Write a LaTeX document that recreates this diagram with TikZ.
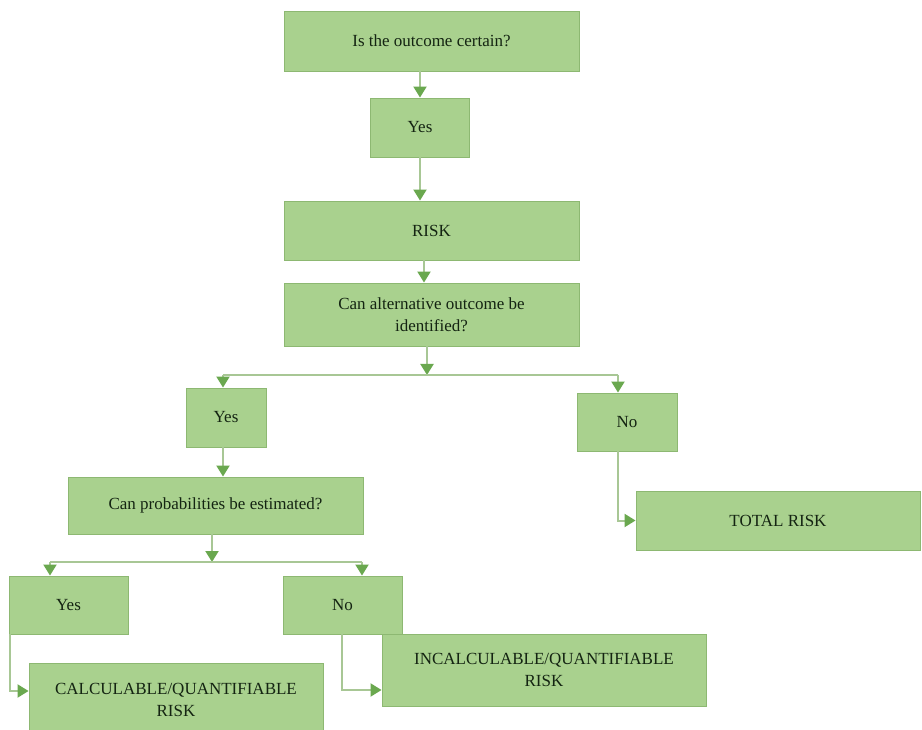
\documentclass[tikz,border=0pt]{standalone}
\usepackage{fontspec}
\setmainfont{Liberation Serif}
\usetikzlibrary{arrows.meta}
\definecolor{boxfill}{HTML}{A9D18E}
\definecolor{boxedge}{HTML}{8DB872}
\definecolor{linecol}{HTML}{A8C795}
\definecolor{tipcol}{HTML}{6AA84F}
\definecolor{textcol}{HTML}{142412}
\tikzset{
  box/.style={draw=boxedge, fill=boxfill, line width=0.9pt, align=center,
    text=textcol, inner sep=0pt, font=\fontsize{17}{22}\selectfont},
  link/.style={draw=linecol, line width=2pt},
  conn/.style={link, -{Triangle[width=13pt,length=11pt,color=tipcol]}}
}
\begin{document}
\begin{tikzpicture}[x=1pt,y=-1pt]
\useasboundingbox (0,0) rectangle (922,730);
\clip (0,0) rectangle (922,730);
\fill[white] (0,0) rectangle (922,730);

% boxes
\node[box, minimum width=295pt, minimum height=60pt] (q1) at (431.5,41) {Is the outcome certain?};
\node[box, minimum width=99pt, minimum height=59pt] (y1) at (420,127.5) {Yes};
\node[box, minimum width=295pt, minimum height=59pt] (risk) at (431.5,230.5) {RISK};
\node[box, minimum width=295pt, minimum height=63pt] (q2) at (431.5,314.5) {Can alternative outcome be\\identified?};
\node[box, minimum width=80pt, minimum height=59pt] (y2) at (226,417.5) {Yes};
\node[box, minimum width=100pt, minimum height=58pt] (n2) at (627,422) {No};
\node[box, minimum width=284pt, minimum height=59pt] (total) at (778,520.5) {TOTAL RISK};
\node[box, minimum width=295pt, minimum height=57pt] (q3) at (215.5,505.5) {Can probabilities be estimated?};
\node[box, minimum width=119pt, minimum height=58pt] (y3) at (68.5,605) {Yes};
\node[box, minimum width=119pt, minimum height=58pt] (n3) at (342.5,605) {No};
\node[box, minimum width=294pt, minimum height=74pt] (calc) at (176,700) {CALCULABLE/QUANTIFIABLE\\RISK};
\node[box, minimum width=324pt, minimum height=72pt] (incalc) at (544,670) {INCALCULABLE/QUANTIFIABLE\\RISK};

% junction points
\coordinate (j1) at (427,375);
\coordinate (j1l) at (223,375);
\coordinate (j1r) at (618,375);
\coordinate (j2) at (212,562);
\coordinate (j2l) at (50,562);
\coordinate (j2r) at (362,562);
\coordinate (e1) at (10,691);
\coordinate (e2) at (342,690);

% connectors
\draw[conn] (q1.south -| y1.center) -- (y1.north);
\draw[conn] (y1.south) -- (risk.north -| y1.center);
\draw[conn] (risk.south -| 424,0) -- (q2.north -| 424,0);
\draw[conn] (q2.south -| j1) -- (j1);
\draw[link] (j1l) -- (j1r);
\draw[conn] (j1l) -- (j1l |- y2.north);
\draw[conn] (j1r) -- (j1r |- n2.north);
\draw[conn] (n2.south -| j1r) |- (total.west);
\draw[conn] (y2.south -| j1l) -- (q3.north -| j1l);
\draw[conn] (q3.south -| j2) -- (j2);
\draw[link] (j2l) -- (j2r);
\draw[conn] (j2l) -- (j2l |- y3.north);
\draw[conn] (j2r) -- (j2r |- n3.north);
\draw[conn] (y3.south -| e1) -- (e1) -- (calc.west |- e1);
\draw[conn] (n3.south -| e2) -- (e2) -- (incalc.west |- e2);
\end{tikzpicture}
\end{document}
